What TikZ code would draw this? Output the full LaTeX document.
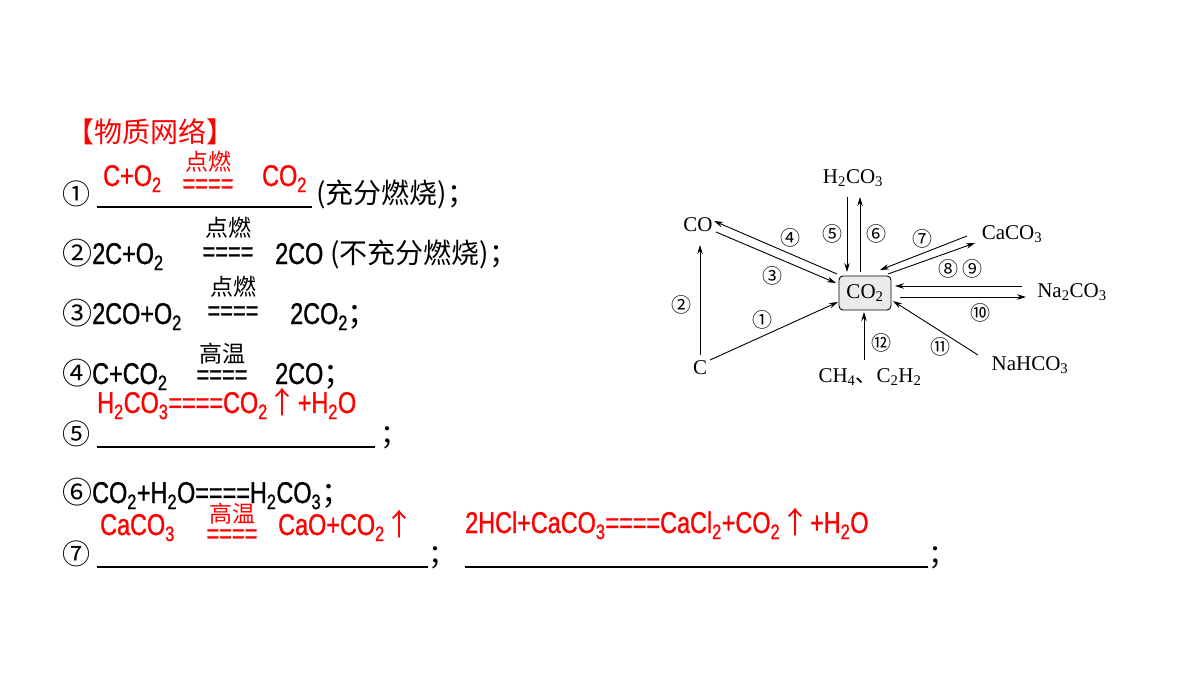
\documentclass[tikz,border=0pt]{standalone}
\usepackage{fontspec}
\usetikzlibrary{arrows.meta,calc}
\newfontfamily\cjk{Noto Sans CJK SC}
\newfontfamily\narrow[FakeStretch=0.78,FakeBold=1]{Liberation Sans}
\newfontfamily\tms{Liberation Serif}
\newcommand{\sbs}[1]{\textsubscript{#1}}
\newcommand{\ck}[1]{{\cjk #1}}
\definecolor{hred}{RGB}{255,0,0}
\tikzset{
  txt/.style={anchor=base west,inner sep=0pt,font=\fontsize{30}{32}\selectfont\narrow},
  cn/.style={anchor=base west,inner sep=0pt,font=\fontsize{28}{30}\selectfont\cjk},
  cond/.style={anchor=base,inner sep=0pt,font=\fontsize{23}{24}\selectfont\cjk},
  eqs/.style={anchor=base,inner sep=0pt,font=\fontsize{28}{30}\selectfont\narrow},
  blank/.style={line width=1.4pt},
  chem/.style={inner sep=1pt,font=\fontsize{21}{22}\selectfont\tms},
  num/.style={inner sep=0pt,font=\fontsize{20}{20}\selectfont\cjk},
  arr/.style={-{Stealth[length=9pt,width=5.5pt]},line width=0.9pt}
}
\begin{document}
\begin{tikzpicture}[x=1pt,y=-1pt]
\useasboundingbox (0,0) rectangle (1200,675);

% left column: equations
\node[cn,text=hred] (title) at (66,142) {【物质网络】};

% line 1
\node[cn] (n1) at (62,204) {①};
\node[txt,text=hred] (r1a) at (103,186) {C+O\sbs{2}};
\node[cond,text=hred] (c1) at (208,170) {点燃};
\node[eqs,text=hred] (e1) at (208,193) {====};
\node[txt,text=hred] (r1b) at (262,186) {CO\sbs{2}};
\draw[blank] (97,207) -- (312,207);
\node[cn] (t1) at (316,203) {(充分燃烧)；};

% line 2
\node[txt] (l2) at (62,264) {\ck{②}2C+O\sbs{2}};
\node[cond] (c2) at (228,236) {点燃};
\node[eqs] (e2) at (228,261) {====};
\node[txt] (l2b) at (275,264) {2CO};
\node[cn] (t2) at (330,263) {(不充分燃烧)；};

% line 3
\node[txt] (l3) at (62,324) {\ck{③}2CO+O\sbs{2}};
\node[cond] (c3) at (233,295) {点燃};
\node[eqs] (e3) at (233,320) {====};
\node[txt] (l3b) at (290,324) {2CO\sbs{2}\ck{；}};

% line 4
\node[txt] (l4) at (62,384) {\ck{④}C+CO\sbs{2}};
\node[cond] (c4) at (222,362) {高温};
\node[eqs] (e4) at (222,384) {====};
\node[txt] (l4b) at (275,384) {2CO\ck{；}};

% line 5
\node[txt,text=hred] (r5) at (97,413) {H\sbs{2}CO\sbs{3}====CO\sbs{2}\ck{↑}+H\sbs{2}O};
\node[cn] (n5) at (62,444) {⑤};
\draw[blank] (97,447) -- (375,447);
\node[cn] (s5) at (380,444) {；};

% line 6
\node[txt] (l6) at (62,503) {\ck{⑥}CO\sbs{2}+H\sbs{2}O====H\sbs{2}CO\sbs{3}\ck{；}};

% line 7
\node[txt,text=hred] (r7a) at (100,535) {CaCO\sbs{3}};
\node[cond,text=hred] (c7) at (232,522) {高温};
\node[eqs,text=hred] (e7) at (232,543) {====};
\node[txt,text=hred] (r7b) at (278,535) {CaO+CO\sbs{2}\ck{↑}};
\node[cn] (n7) at (62,564) {⑦};
\draw[blank] (97,567) -- (428,567);
\node[cn] (s7a) at (428,564) {；};
\node[txt,text=hred] (r7c) at (465,533) {2HCl+CaCO\sbs{3}====CaCl\sbs{2}+CO\sbs{2}\ck{↑}+H\sbs{2}O};
\draw[blank] (465,567) -- (928,567);
\node[cn] (s7b) at (928,564) {；};

% right: network diagram
\node[chem,draw,rounded corners=4pt,fill=black!8,line width=0.9pt,minimum width=52pt,minimum height=34pt] (co2) at (865,293) {CO\sbs{2}};
\node[chem] (co) at (698,225) {CO};
\node[chem] (c) at (700,368) {C};
\node[chem] (hco) at (853,178) {H\sbs{2}CO\sbs{3}};
\node[chem] (caco) at (1012,234) {CaCO\sbs{3}};
\node[chem] (naco) at (1072,292) {Na\sbs{2}CO\sbs{3}};
\node[chem] (nahco) at (1030,365) {NaHCO\sbs{3}};
\node[chem] (ch) at (870,377) {CH\sbs{4}\ck{、}C\sbs{2}H\sbs{2}};

\draw[arr] ($(co2)+(-28,-19)$) -- ($(co)+(16,-4)$);
\draw[arr] ($(co)+(18,7)$) -- ($(co2)+(-29,-10)$);
\draw[arr] ($(hco)+(-6,19)$) -- ($(co2)+(-18,-21)$);
\draw[arr] ($(co2)+(-5,-21)$) -- ($(hco)+(7,19)$);
\draw[arr] ($(caco)+(-45,2)$) -- ($(co2)+(15,-23)$);
\draw[arr] ($(co2)+(23,-19)$) -- ($(caco)+(-37,9)$);
\draw[arr] ($(naco)+(-50,-6)$) -- ($(co2)+(30,-7)$);
\draw[arr] ($(co2)+(35,4)$) -- ($(naco)+(-46,5)$);
\draw[arr] ($(nahco)+(-52,-10)$) -- ($(co2)+(28,8)$);
\draw[arr] ($(ch)+(-6,-17)$) -- ($(co2)+(-1,19)$);
\draw[arr] ($(c)+(0,-13)$) -- ($(co)+(2,20)$);
\draw[arr] ($(c)+(10,-8)$) -- ($(co2)+(-27,9)$);

% step numbers
\node[num] (k1) at (762,320) {①};
\node[num] (k2) at (681,305) {②};
\node[num] (k3) at (772,276) {③};
\node[num] (k4) at (790,238) {④};
\node[num] (k5) at (832,234) {⑤};
\node[num] (k6) at (876,234) {⑥};
\node[num] (k7) at (922,239) {⑦};
\node[num] (k8) at (948,269) {⑧};
\node[num] (k9) at (972,269) {⑨};
\node[num] (k10) at (980,313) {⑩};
\node[num] (k11) at (940,347) {⑪};
\node[num] (k12) at (881,343) {⑫};
\end{tikzpicture}
\end{document}
